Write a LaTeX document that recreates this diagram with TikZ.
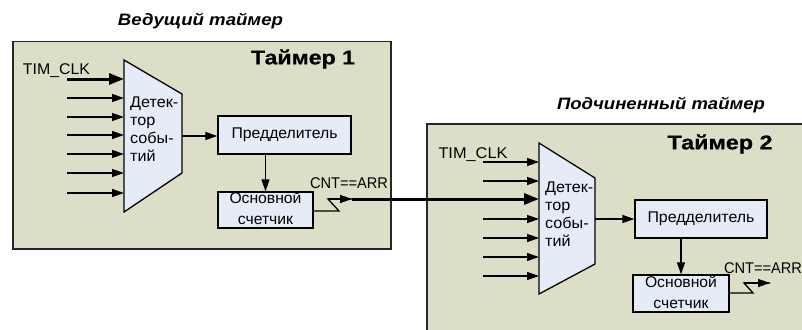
\documentclass[tikz,border=0pt]{standalone}
\usepackage{graphicx}
\usepackage{fontspec}
\setmainfont{Liberation Sans}
\newfontfamily\heavyfont{Liberation Sans}[BoldFeatures={FakeBold=0.5}]
\usetikzlibrary{arrows.meta}
\definecolor{tfill}{RGB}{220,222,199}
\definecolor{bfill}{RGB}{229,236,248}
\newcommand{\fitw}[2]{\resizebox{#1pt}{\height}{#2}}
\newcommand{\lstack}[1]{\begin{tabular}{@{}l@{}}#1\end{tabular}}
\newcommand{\cstack}[1]{\begin{tabular}{@{}c@{}}#1\end{tabular}}
\begin{document}
\begin{tikzpicture}[x=1pt,y=-1pt,
  lbl/.style={font=\fontsize{15.5}{18}\selectfont, inner sep=0pt},
  lblc/.style={font=\fontsize{15.5}{21}\selectfont, inner sep=0pt},
  ttl/.style={font=\fontsize{16.5}{20}\selectfont\bfseries\itshape, inner sep=0pt},
  tname/.style={font=\heavyfont\fontsize{20}{22}\selectfont\bfseries, inner sep=0pt},
  blk/.style={draw, line width=1.3pt, fill=bfill, inner sep=0pt},
  frm/.style={draw=black!85, line width=1.5pt, fill=tfill, inner sep=0pt, anchor=north west},
  trap/.style={draw, line width=1.3pt, fill=bfill, line join=miter},
  sig/.style={line width=1.3pt, -{Triangle[length=12pt,width=8pt]}},
  sigline/.style={line width=1.3pt},
  thk/.style={line width=3pt, -{Triangle[length=15pt,width=11pt]}}]
\useasboundingbox (0,0) rectangle (802,329);
\clip (0,0) rectangle (802,329);
\fill[white] (0,0) rectangle (802,329);

% frames
\node[frm, minimum width=378pt, minimum height=207pt] (t1) at (12,41) {};
\node[frm, minimum width=400pt, minimum height=230pt] (t2) at (426,123) {};

% titles
\node[ttl] (h1) at (200.5,21) {\fitw{165}{Ведущий таймер}};
\node[ttl] (h2) at (661,105.5) {\fitw{208}{Подчиненный таймер}};
\node[tname] (n1) at (303,59) {\fitw{104}{Таймер 1}};
\node[tname] (n2) at (720,144) {\fitw{105}{Таймер 2}};

% ---------- Timer 1 ----------
\coordinate (d1a) at (124,60);
\coordinate (d1b) at (182,94);
\coordinate (d1c) at (182,173);
\coordinate (d1d) at (124,212);
\draw[trap] (d1a) -- (d1b) -- (d1c) -- (d1d) -- cycle;
\node[lbl, anchor=west] (dt1) at (130,131) {\fitw{48}{\lstack{Детек-\\тор\\собы-\\тий}}};

\node[lbl] (clk1) at (56.5,71) {\fitw{67}{TIM\_CLK}};
\foreach \y [count=\i] in {98,117,135,154,173,193}{
  \coordinate (i1s\i) at (67,\y);
  \draw[sig] (i1s\i) -- (i1s\i -| d1a);
}
\coordinate (clk1s) at (67,79);
\draw[thk] (clk1s) -- (clk1s -| d1a);

\node[blk, minimum width=133pt, minimum height=38pt] (p1) at (284.5,135) {};
\node[lbl] at (p1) {\fitw{106}{Предделитель}};
\node[blk, minimum width=95pt, minimum height=36pt] (c1) at (265.5,210) {};
\node[lblc] at (c1) {\fitw{72}{\cstack{Основной\\счетчик}}};

\coordinate (o1) at (182,136);
\draw[sig] (o1) -- (o1 -| p1.west);
\draw[sig] (c1.north |- p1.south) -- (c1.north);

\node[lbl] (cnt1) at (349,183) {\fitw{78}{CNT==ARR}};
\coordinate (z1a) at (339,211);
\coordinate (z1b) at (328,199);
\coordinate (z1c) at (352,199);
\draw[sigline, line join=miter] (c1.east |- z1a) -- (z1a) -- (z1b) -- (z1c);

% ---------- Timer 2 ----------
\coordinate (d2a) at (539,143);
\coordinate (d2b) at (595,178);
\coordinate (d2c) at (595,264);
\coordinate (d2d) at (539,294);
\draw[trap] (d2a) -- (d2b) -- (d2c) -- (d2d) -- cycle;
\node[lbl, anchor=west] (dt2) at (545,216) {\fitw{48}{\lstack{Детек-\\тор\\собы-\\тий}}};

\node[lbl] (clk2) at (473,155) {\fitw{69}{TIM\_CLK}};
\foreach \y [count=\i] in {162,181,219,238,257,276}{
  \coordinate (i2s\i) at (483,\y);
  \draw[sig] (i2s\i) -- (i2s\i -| d2a);
}

\node[blk, minimum width=132pt, minimum height=38pt] (p2) at (701,219) {};
\node[lbl] at (p2) {\fitw{107}{Предделитель}};
\node[blk, minimum width=96pt, minimum height=37pt] (c2) at (681,293.5) {};
\node[lblc] at (c2) {\fitw{72}{\cstack{Основной\\счетчик}}};

\coordinate (o2) at (595,219);
\draw[sig] (o2) -- (o2 -| p2.west);
\draw[sig] (c2.north |- p2.south) -- (c2.north);

\node[lbl] (cnt2) at (763,268) {\fitw{78}{CNT==ARR}};
\coordinate (z2a) at (753,293);
\coordinate (z2b) at (744,283);
\coordinate (z2c) at (770,283);
\draw[sigline, line join=miter] (c2.east |- z2a) -- (z2a) -- (z2b) -- (z2c);
\draw[sig] (z2b) -- (z2c);

% link timer1 -> timer2
\draw[sig] (z1b) -- (z1c);
\draw[thk] (z1c) -- (z1c -| d2a);
\end{tikzpicture}
\end{document}
